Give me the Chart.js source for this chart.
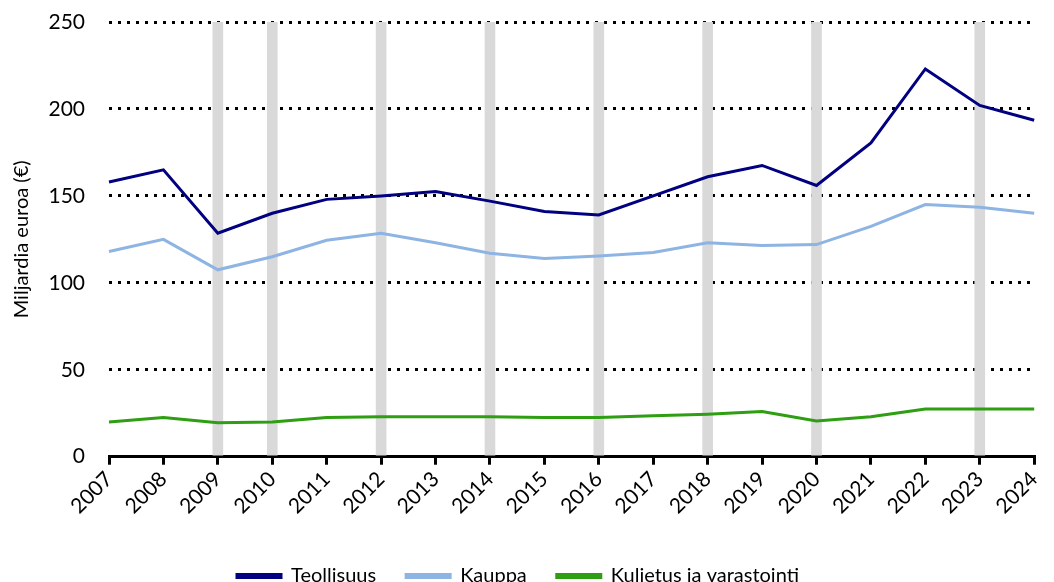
<!DOCTYPE html>
<html>
<head>
<meta charset="utf-8">
<script src="https://cdn.jsdelivr.net/npm/chart.js@4"></script>
<style>
  html, body { margin: 0; padding: 0; background: #fff; overflow: hidden; }
  #wrap { width: 1054px; height: 596px; }
</style>
</head>
<body>
<div id="wrap"><canvas id="chart"></canvas></div>
<script>
var years = ['2007','2008','2009','2010','2011','2012','2013','2014','2015','2016','2017','2018','2019','2020','2021','2022','2023','2024'];
var teollisuus = [158, 165, 128.5, 140, 148, 150, 152.5, 147, 141, 139, 150, 161, 167.5, 156, 180.5, 223, 202, 193.5];
var kauppa = [118, 125, 107.5, 115, 124.5, 128.5, 123, 117, 114, 115.5, 117.5, 123, 121.5, 122, 132.5, 145, 143.5, 140];
var kuljetus = [20, 22.5, 19.5, 20, 22.5, 23, 23, 23, 22.5, 22.5, 23.5, 24.5, 26, 20.5, 23, 27.5, 27.5, 27.5];
// grey highlight years
var highlightYears = ['2009','2010','2012','2014','2016','2018','2020','2023'];
var yTicks = [0, 50, 100, 150, 200, 250];

var highlight = years.map(function(y){
  return highlightYears.indexOf(y) >= 0 ? 250 : null;
});

var font = 'Lato, "Open Sans", sans-serif';

var ctx = document.getElementById('chart').getContext('2d');
var chart = new Chart(ctx, {
  data: {
    labels: years,
    datasets: [
      {type: 'line', label: 'Teollisuus', data: teollisuus, borderColor: '#000080', backgroundColor: '#000080', borderWidth: 3, pointRadius: 0, tension: 0, order: 1},
      {type: 'line', label: 'Kauppa', data: kauppa, borderColor: '#8db4e2', backgroundColor: '#8db4e2', borderWidth: 3, pointRadius: 0, tension: 0, order: 2},
      {type: 'line', label: 'Kuljetus ja varastointi', data: kuljetus, borderColor: '#2e9e12', backgroundColor: '#2e9e12', borderWidth: 3, pointRadius: 0, tension: 0, order: 3},
      {type: 'bar', label: 'highlight', data: highlight, backgroundColor: '#d9d9d9', barThickness: 10, order: 10}
    ]
  },
  options: {
    responsive: true,
    maintainAspectRatio: false,
    animation: false,
    layout: {padding: {left: 0, right: 18, top: 0, bottom: 0}},
    plugins: {
      tooltip: {enabled: false},
      legend: {
        position: 'bottom',
        labels: {
          font: {family: font, size: 20},
          color: '#000',
          boxWidth: 44,
          boxHeight: 3,
          padding: 30,
          filter: function(item){ return item.text !== 'highlight'; }
        }
      }
    },
    scales: {
      x: {
        offset: false,
        grid: {offset: false, drawOnChartArea: false, drawTicks: true, tickLength: 8, tickColor: '#000', tickWidth: 3, lineWidth: 3, color: '#000'},
        border: {display: true, color: '#000', width: 3},
        ticks: {font: {family: font, size: 21}, color: '#000', maxRotation: 45, minRotation: 45, padding: 2},
        afterFit: function(scale){ scale.height += 15; }
      },
      y: {
        min: 0,
        max: 250,
        afterBuildTicks: function(scale){
          scale.ticks = yTicks.map(function(v){ return {value: v}; });
        },
        grid: {color: '#000', lineWidth: 3, drawTicks: false},
        border: {display: false, dash: [3, 6]},
        ticks: {font: {family: font, size: 21}, color: '#000', padding: 24},
        title: {display: true, text: 'Miljardia euroa (€)', font: {family: font, size: 20}, color: '#000', padding: 10},
        afterFit: function(scale){
          scale.width = 109;
          scale.paddingTop = 22;
          scale.paddingBottom = 12;
        }
      }
    }
  }
});
</script>
</body>
</html>
